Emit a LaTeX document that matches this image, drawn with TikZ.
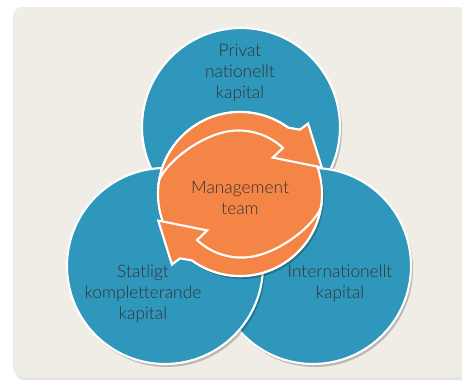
\documentclass[tikz,border=0pt]{standalone}
\usepackage{fontspec}
\setmainfont{Lato}[UprightFont=* Light]
\usetikzlibrary{calc,positioning}
\definecolor{bgbeige}{HTML}{F0EDE7}
\definecolor{capblue}{HTML}{2F97BB}
\definecolor{mgmtorange}{HTML}{F58546}
\definecolor{labelgray}{HTML}{333333}
\tikzset{
  capdisc/.style={fill=capblue,draw=white,line width=1.6pt},
  mgmtdisc/.style={fill=mgmtorange,draw=white,line width=1.6pt},
  discshadow/.style={fill=black,opacity=.22},
  captext/.style={align=center,text=labelgray,font=\fontsize{13}{15.75}\selectfont}
}
\begin{document}
\begin{tikzpicture}[x=0.75pt,y=-0.75pt]
  \useasboundingbox (0,0) rectangle (462,380);
  \fill[black!10,rounded corners=7pt] (15,9) rectangle (480,380);
  \fill[bgbeige,rounded corners=7pt] (13,7) rectangle (478,377);
  \coordinate (T) at (241,127);
  \coordinate (R) at (313,266);
  \coordinate (L) at (165,266);
  \coordinate (O) at (240,194);
  \foreach \disc/\rad in {T/99,R/98,L/98}{
    \fill[discshadow] ($(\disc)+(2,3)$) circle (\rad);
    \filldraw[capdisc] (\disc) circle (\rad);
  }
  \fill[discshadow] ($(O)+(2,3)$) circle (82);
  \filldraw[mgmtdisc] (O) circle (82);
  \foreach \turn in {0,180}{
    \begin{scope}[shift={(O)},rotate=\turn]
      \filldraw[mgmtdisc,line join=miter] (190:82) arc[start angle=190,end angle=306,radius=82]
        -- (313:88) -- (314:98) -- (342:86) -- (312:49) -- (313:63)
        arc[start angle=313,end angle=250,radius=65]
        .. controls (230:69) and (205:79) .. cycle;
    \end{scope}
  }
  \node[captext] (privat) at (240,73) {Privat\\nationellt\\kapital};
  \node[captext] (mgmt) at (240,198) {Management\\team};
  \node[captext] (statligt) at (143,294) {Statligt\\kompletterande\\kapital};
  \node[captext] (intl) at (340,283.5) {Internationellt\\kapital};
\end{tikzpicture}
\end{document}
